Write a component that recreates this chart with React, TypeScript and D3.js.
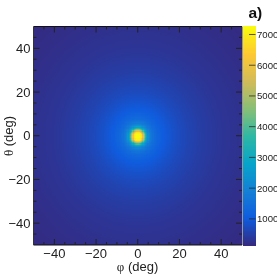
import React from "react";
import * as d3 from "d3";

const xTicks = [-40, -20, 0, 20, 40];
const yTicks = [-40, -20, 0, 20, 40];
const minorTicks = [-45, -35, -30, -25, -15, -10, -5, 5, 10, 15, 25, 30, 35, 45];
const barTicks = [1000, 2000, 3000, 4000, 5000, 6000, 7000];
// radial profile: angular distance (deg) -> counts
const profileRadius = [0, 1, 2, 3, 4, 5, 6, 8, 10, 13, 16, 20, 25, 30, 36, 42, 50, 60, 71];
const profileCounts = [7260, 7240, 6800, 4900, 3100, 2250, 1800, 1420, 1200, 1010, 880, 740, 610, 510, 420, 350, 290, 230, 170];
const birdStops = ["#35297f", "#0f5cde", "#1480d6", "#06a4ca", "#2eb7a4", "#87bf77", "#d1bb59", "#fec832", "#f9fb0e"];
const cellSize = 0.6;
const gridEdge = d3.range(-50, 50, cellSize);

const W = 277, H = 276;
const L = 33.5, R = 242, T = 26.5, B = 245;

export default function App() {
  const x = d3.scaleLinear().domain([-50, 50]).range([L, R]);
  const y = d3.scaleLinear().domain([-50, 50]).range([B, T]);
  const bar = d3.scaleLinear().domain([150, 7260]).range([B, T]);
  const palette = d3.scaleLinear<string>()
    .domain(birdStops.map((_, i) => i / (birdStops.length - 1)))
    .range(birdStops)
    .interpolate(d3.interpolateRgb);
  const colour = d3.scaleSequential((t: number) => palette(t)).domain([150, 7260]);
  const profile = d3.scaleLinear().domain(profileRadius).range(profileCounts).clamp(true);
  const barCells = d3.range(150, 7260, 40);
  const font = "'Liberation Sans', Arial, sans-serif";
  const serif = "'Liberation Serif', 'DejaVu Serif', serif";
  const cw = x(cellSize) - x(0) + 0.7;
  const ch = y(0) - y(cellSize) + 0.7;

  return (
    <svg width={W} height={H} style={{ position: "absolute", left: 0, top: 0, background: "#fff" }} fontFamily={font}>
      <defs>
        <filter id="soft" x="0" y="0" width="1" height="1" colorInterpolationFilters="sRGB">
          <feGaussianBlur stdDeviation="0.35" />
        </filter>
      </defs>
      <g filter="url(#soft)">
        <rect x={0} y={0} width={W} height={H} fill="#fff" />
        <g shapeRendering="crispEdges">
          {gridEdge.flatMap((a) =>
            gridEdge.map((b) => (
              <rect key={`${a}:${b}`} x={x(a)} y={y(b + cellSize)} width={Math.min(cw, R - x(a))} height={Math.min(ch, B - y(b + cellSize))}
                fill={colour(profile(Math.hypot(a + cellSize / 2, b + cellSize / 2)))} />
            ))
          )}
        </g>
        <g>
          <g shapeRendering="crispEdges">
            {barCells.map((v) => (
              <rect key={v} x={243} y={bar(v + 40)} width={12.5} height={bar(v) - bar(v + 40) + 0.7} fill={colour(v + 20)} />
            ))}
          </g>
          <line x1={242.5} x2={242.5} y1={T} y2={B} stroke="#999" />
          {barTicks.map((v) => (
            <g key={v}>
              <line x1={249} x2={255.5} y1={bar(v)} y2={bar(v)} stroke="#222" strokeOpacity={0.75} />
              <text x={257} y={bar(v) + 3.5} fontSize={9.6} fill="#222">{v}</text>
            </g>
          ))}
        </g>
        <g stroke="#222" fill="none">
          <line x1={L} x2={R} y1={T} y2={T} stroke="#111" strokeWidth={1.2} />
          <line x1={L} x2={R} y1={B} y2={B} stroke="#111" strokeWidth={1.2} />
          <line x1={L} x2={L} y1={T} y2={B} stroke="#333" />
          {xTicks.map((v) => (
            <g key={v}>
              <line x1={x(v)} x2={x(v)} y1={B} y2={B - 6} />
              <line x1={x(v)} x2={x(v)} y1={T} y2={T + 6} />
              <line x1={L} x2={L + 6} y1={y(v)} y2={y(v)} />
              <line x1={R} x2={R - 6} y1={y(v)} y2={y(v)} />
            </g>
          ))}
          {minorTicks.map((v) => (
            <g key={v}>
              <line x1={x(v)} x2={x(v)} y1={B} y2={B - 3} />
              <line x1={x(v)} x2={x(v)} y1={T} y2={T + 3} />
              <line x1={L} x2={L + 3} y1={y(v)} y2={y(v)} />
              <line x1={R} x2={R - 3} y1={y(v)} y2={y(v)} />
            </g>
          ))}
        </g>
        <g fontSize={13} fill="#222">
          {xTicks.map((v) => (
            <text key={v} x={x(v)} y={257.5} textAnchor="middle">{v < 0 ? `\u2212${-v}` : v}</text>
          ))}
          {yTicks.map((v) => (
            <text key={v} x={30.5} y={y(v) + 4.7} textAnchor="end">{v < 0 ? `\u2212${-v}` : v}</text>
          ))}
          <text x={137.5} y={271} textAnchor="middle" fontSize={13}><tspan fontFamily={serif}>φ</tspan> (deg)</text>
          <text transform="translate(12.5,136) rotate(-90)" textAnchor="middle" fontSize={13}><tspan fontFamily={serif}>θ</tspan> (deg)</text>
        </g>
        <text x={248.5} y={17.5} fontSize={15.5} fontWeight="bold" fill="#111">a)</text>
      </g>
    </svg>
  );
}
